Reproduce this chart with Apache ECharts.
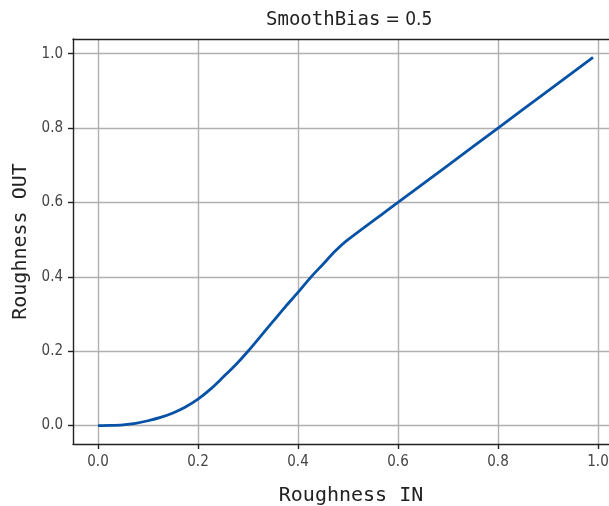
<!DOCTYPE html>
<html>
<head>
<meta charset="utf-8">
<script src="https://cdn.jsdelivr.net/npm/echarts@6/dist/echarts.min.js"></script>
<style>
  html, body { margin: 0; padding: 0; background: #fff; }
  #main { width: 609px; height: 506px; }
</style>
</head>
<body>
<div id="main"></div>
<script>
// curve
var roughIn  = [0, 0.025, 0.05, 0.075, 0.1, 0.125, 0.15, 0.175, 0.2, 0.225, 0.25, 0.275, 0.3, 0.325, 0.35, 0.375, 0.4, 0.425, 0.45, 0.475, 0.5, 0.6, 0.7, 0.8, 0.9, 0.99];
var roughOut = [0, 0.0004, 0.002, 0.006, 0.013, 0.022, 0.034, 0.05, 0.071, 0.098, 0.13, 0.163, 0.2, 0.24, 0.28, 0.32, 0.358, 0.398, 0.434, 0.47, 0.5, 0.6, 0.7, 0.8, 0.9, 0.99];
var tickVals = [0, 0.2, 0.4, 0.6, 0.8, 1.0];

var chart = echarts.init(document.getElementById('main'));
var pts = roughIn.map(function (x, i) { return [x, roughOut[i]]; });

var tickFont = 'DejaVu Sans Condensed, DejaVu Sans, sans-serif';
var monoFont = 'DejaVu Sans Mono, monospace';
var frame = { color: '#222', width: 1.4 };

function makeAxis(extra, labelMargin) {
  var a = {
    type: 'value',
    nameLocation: 'middle',
    axisLine: { show: true, onZero: false, lineStyle: frame },
    axisTick: { show: true, inside: false, length: 5, lineStyle: frame, customValues: tickVals },
    axisLabel: {
      customValues: tickVals, margin: labelMargin,
      fontFamily: tickFont, fontSize: 15, color: '#444',
      formatter: function (v) { return v.toFixed(1); }
    },
    splitLine: { show: true, lineStyle: { color: '#b0b0b0', width: 1.4 } }
  };
  for (var k in extra) a[k] = extra[k];
  return a;
}

var option = {
  animation: false,
  title: {
    text: '{m|SmoothBias} {s|= 0.5}',
    left: 261,
    top: 6,
    textStyle: {
      fontWeight: 'normal',
      rich: {
        m: { fontFamily: monoFont, fontSize: 19, color: '#222', fontWeight: 'normal' },
        s: { fontFamily: tickFont, fontSize: 19, color: '#222', fontWeight: 'normal' }
      }
    }
  },
  grid: { left: 73, top: 39, right: 0, bottom: 62, containLabel: false, outerBoundsMode: 'none' },
  xAxis: [
    makeAxis({
      name: 'Roughness IN', nameGap: 42, min: -0.05, max: 1.022,
      nameTextStyle: { fontFamily: monoFont, fontSize: 20, color: '#222', padding: [0, 0, 0, 20] }
    }, 11),
    {
      type: 'value', position: 'top', min: -0.05, max: 1.022,
      axisLine: { show: true, onZero: false, lineStyle: frame },
      axisTick: { show: false }, axisLabel: { show: false }, splitLine: { show: false }
    }
  ],
  yAxis: makeAxis({
    name: 'Roughness OUT', nameGap: 41, min: -0.0495, max: 1.0395,
    nameTextStyle: { fontFamily: monoFont, fontSize: 20, color: '#222' }
  }, 10),
  series: [{
    type: 'line',
    data: pts,
    smooth: 0.3,
    showSymbol: false,
    lineStyle: { color: '#0552a6', width: 2.8 }
  }]
};
chart.setOption(option);
</script>
</body>
</html>
